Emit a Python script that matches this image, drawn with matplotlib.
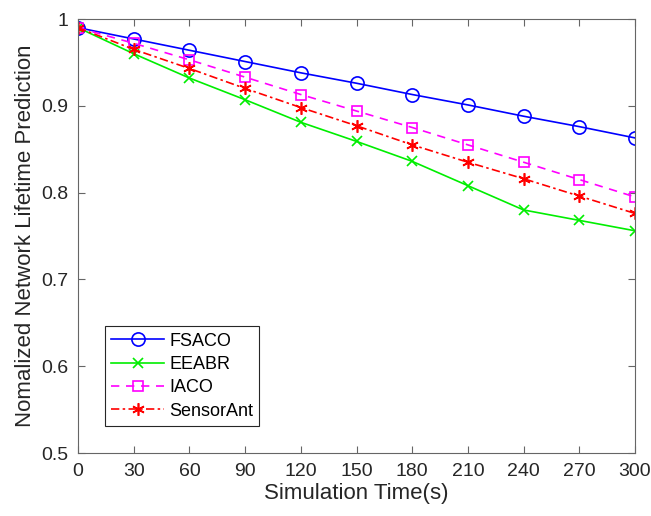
import matplotlib
matplotlib.use("Agg")
import matplotlib.pyplot as plt

plt.rcParams['font.family'] = ['Liberation Sans', 'DejaVu Sans']

x = [0, 30, 60, 90, 120, 150, 180, 210, 240, 270, 300]
fsaco = [0.99, 0.977, 0.964, 0.951, 0.938, 0.926, 0.913, 0.901, 0.888, 0.876, 0.863]
eeabr = [0.99, 0.960, 0.932, 0.907, 0.881, 0.859, 0.836, 0.808, 0.780, 0.768, 0.756]
iaco = [0.99, 0.972, 0.953, 0.933, 0.913, 0.894, 0.875, 0.855, 0.835, 0.815, 0.795]
sensorant = [0.99, 0.965, 0.943, 0.920, 0.898, 0.877, 0.855, 0.835, 0.816, 0.796, 0.776]

fig = plt.figure(figsize=(6.51, 5.16), dpi=100)
ax = fig.add_axes([78 / 651, 1 - 453 / 516, 557 / 651, 434 / 516])

ax.plot(x, fsaco, color='#0000ff', linestyle='-', marker='o', markersize=9.5,
        markerfacecolor='none', markeredgewidth=1.2, linewidth=1.2, label='FSACO')
ax.plot(x, eeabr, color='#00ee00', linestyle='-', marker='x', markersize=7,
        markeredgewidth=1.2, linewidth=1.2, label='EEABR')
ax.plot(x, iaco, color='#ff00ff', linestyle=(0, (5, 4)), marker='s', markersize=7,
        markerfacecolor='none', markeredgewidth=1.2, linewidth=1.2, label='IACO')
ax.plot(x, sensorant, color='#ff0000', linestyle=(0, (5, 2, 1.5, 2)), marker=(6, 2, 0), markersize=9,
        markeredgewidth=1.2, linewidth=1.2, label='SensorAnt')

ax.set_xlim(0, 300)
ax.set_ylim(0.5, 1.0)
ax.set_xticks(x)
ax.set_yticks([0.5, 0.6, 0.7, 0.8, 0.9, 1.0])
ax.set_yticklabels(['0.5', '0.6', '0.7', '0.8', '0.9', '1'])
ax.tick_params(direction='in', top=True, right=True, labelsize=14, color='#666666',
               labelcolor='#262626', length=5, width=0.8, pad=7)
for s in ax.spines.values():
    s.set_color('#666666')
    s.set_linewidth(0.8)

ax.set_xlabel('Simulation Time(s)', fontsize=16, color='#262626', labelpad=2)
ax.set_ylabel('Nomalized Network Lifetime Prediction', fontsize=16, color='#262626', labelpad=4)

leg = ax.legend(loc='lower left', bbox_to_anchor=(0.0485, 0.062), fontsize=13,
                fancybox=False, edgecolor='#262626', framealpha=1, borderpad=0.35,
                labelspacing=0.35, handlelength=2.9, handletextpad=0.3, borderaxespad=0)
leg.get_frame().set_linewidth(0.8)

fig.savefig('out.png', dpi=100)
